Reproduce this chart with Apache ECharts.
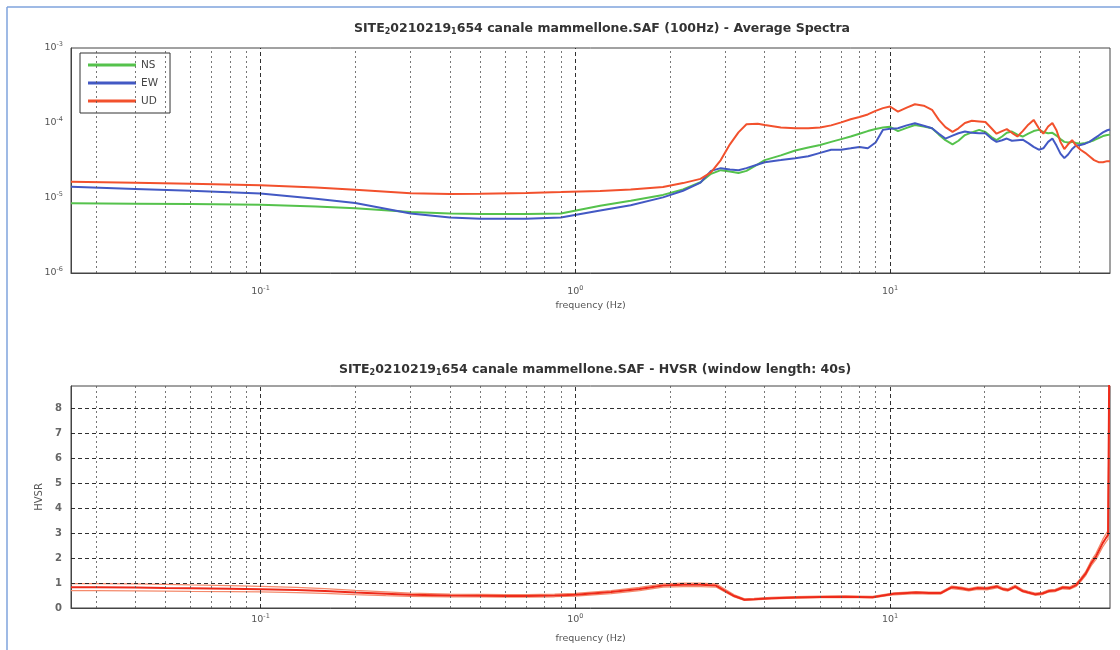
<!DOCTYPE html>
<html><head><meta charset="utf-8">
<script src="https://cdn.jsdelivr.net/npm/echarts@6/dist/echarts.min.js"></script>
<style>html,body{margin:0;padding:0;background:#fff}#c{width:1120px;height:650px}</style>
</head><body><div id="c"></div>
<script>
// ---- Average spectra (top) ----
const specFreq = [0.025,0.04,0.06,0.1,0.15,0.2,0.3,0.4,0.5,0.7,0.9,1.2,1.5,1.9,2.2,2.5,2.7,2.9,3.1,3.3,3.5,3.8,4.0,4.5,5.0,5.5,6.0,6.5,7.0,7.5,8.0,8.5,9.0,9.5,10,10.6,11.3,12,12.8,13.6,14.3,15,15.8,16.5,17.3,18.2,19.2,20.1,21,21.8,22.7,23.5,24.4,25.4,26.4,27.5,28.6,29.7,30.7,31.8,32.8,33.8,34.8,35.8,36.8,37.9,39.0,40.3,41.7,43.0,44.5,46.0,47.5,49.0,50];
const specUD = [1.65e-5,1.6e-5,1.55e-5,1.48e-5,1.38e-5,1.29e-5,1.16e-5,1.13e-5,1.14e-5,1.17e-5,1.2e-5,1.24e-5,1.3e-5,1.4e-5,1.58e-5,1.8e-5,2.2e-5,3.2e-5,5.2e-5,7.5e-5,9.6e-5,9.8e-5,9.4e-5,8.7e-5,8.5e-5,8.5e-5,8.7e-5,9.3e-5,1.02e-4,1.12e-4,1.2e-4,1.3e-4,1.45e-4,1.58e-4,1.66e-4,1.42e-4,1.6e-4,1.78e-4,1.7e-4,1.5e-4,1.1e-4,8.8e-5,7.6e-5,8.5e-5,1.0e-4,1.07e-4,1.05e-4,1.03e-4,8.5e-5,7.2e-5,7.8e-5,8.3e-5,7.4e-5,6.6e-5,7.8e-5,9.5e-5,1.1e-4,8.5e-5,7.2e-5,9.0e-5,1.0e-4,8.0e-5,5.6e-5,4.5e-5,5.2e-5,5.9e-5,5.0e-5,4.4e-5,4.0e-5,3.6e-5,3.2e-5,3.0e-5,3.0e-5,3.1e-5,3.1e-5];
const specNS = [8.5e-6,8.4e-6,8.3e-6,8.1e-6,7.7e-6,7.3e-6,6.5e-6,6.2e-6,6.1e-6,6.1e-6,6.2e-6,7.9e-6,9.2e-6,1.1e-5,1.3e-5,1.62e-5,2.1e-5,2.35e-5,2.25e-5,2.15e-5,2.3e-5,2.8e-5,3.2e-5,3.7e-5,4.3e-5,4.7e-5,5.1e-5,5.6e-5,6.1e-5,6.6e-5,7.2e-5,7.8e-5,8.3e-5,8.7e-5,8.9e-5,7.8e-5,8.6e-5,9.4e-5,9.0e-5,8.5e-5,7.0e-5,5.9e-5,5.2e-5,5.8e-5,6.9e-5,7.5e-5,8.1e-5,7.6e-5,6.5e-5,5.9e-5,6.6e-5,7.4e-5,7.7e-5,7.0e-5,6.6e-5,7.2e-5,7.8e-5,8.1e-5,7.6e-5,7.3e-5,7.4e-5,6.8e-5,6.1e-5,5.6e-5,5.5e-5,5.6e-5,5.4e-5,5.3e-5,5.4e-5,5.6e-5,5.9e-5,6.3e-5,6.7e-5,6.9e-5,7.0e-5];
const specEW = [1.41e-5,1.32e-5,1.25e-5,1.15e-5,9.8e-6,8.6e-6,6.2e-6,5.5e-6,5.3e-6,5.3e-6,5.5e-6,6.8e-6,8.0e-6,1.02e-5,1.25e-5,1.6e-5,2.3e-5,2.5e-5,2.4e-5,2.35e-5,2.5e-5,2.8e-5,3.0e-5,3.2e-5,3.4e-5,3.6e-5,4.0e-5,4.4e-5,4.4e-5,4.6e-5,4.8e-5,4.6e-5,5.5e-5,8.1e-5,8.4e-5,8.5e-5,9.3e-5,9.9e-5,9.2e-5,8.5e-5,7.2e-5,6.2e-5,6.8e-5,7.3e-5,7.7e-5,7.4e-5,7.3e-5,7.3e-5,6.2e-5,5.6e-5,5.9e-5,6.2e-5,5.8e-5,5.9e-5,6.0e-5,5.4e-5,4.8e-5,4.4e-5,4.6e-5,5.6e-5,6.2e-5,5.0e-5,3.9e-5,3.4e-5,3.8e-5,4.5e-5,5.0e-5,5.1e-5,5.3e-5,5.6e-5,6.2e-5,6.8e-5,7.5e-5,8.0e-5,8.2e-5];

// ---- HVSR (bottom) ----
const hvFreq = [0.025,0.03,0.04,0.05,0.06,0.08,0.1,0.13,0.16,0.2,0.25,0.3,0.4,0.5,0.6,0.7,0.86,1.0,1.3,1.6,1.9,2.2,2.5,2.8,3.0,3.2,3.45,3.7,4.2,5,6,7.2,8.8,10.3,12.1,13.3,14.5,15.3,15.7,16.8,17.8,19,20.3,21.9,22.8,23.7,25,26.4,27.5,28.9,30.5,32,33.5,35.4,37.3,39,40.3,41.9,43.6,45.1,47.4,48.5,49.3,50];
const hvMean = [0.83,0.83,0.82,0.80,0.79,0.77,0.75,0.72,0.68,0.62,0.57,0.53,0.50,0.49,0.48,0.48,0.50,0.53,0.64,0.76,0.90,0.93,0.93,0.90,0.68,0.48,0.33,0.35,0.39,0.42,0.44,0.45,0.43,0.57,0.62,0.60,0.60,0.76,0.83,0.79,0.73,0.80,0.78,0.86,0.76,0.72,0.86,0.68,0.62,0.55,0.58,0.68,0.70,0.82,0.80,0.92,1.12,1.39,1.80,2.06,2.60,2.80,2.93,14];
const hvUpper = [0.98,0.98,0.97,0.95,0.93,0.90,0.87,0.83,0.78,0.71,0.65,0.60,0.56,0.55,0.54,0.54,0.56,0.59,0.70,0.83,0.97,1.0,1.0,0.97,0.74,0.53,0.37,0.39,0.43,0.46,0.48,0.49,0.47,0.61,0.66,0.64,0.64,0.80,0.88,0.84,0.78,0.85,0.83,0.91,0.81,0.77,0.91,0.73,0.67,0.60,0.63,0.73,0.75,0.87,0.85,0.98,1.19,1.47,1.90,2.18,2.75,2.96,3.10,14];
const hvLower = [0.70,0.70,0.69,0.68,0.67,0.66,0.65,0.62,0.59,0.54,0.50,0.47,0.45,0.44,0.43,0.43,0.45,0.48,0.58,0.70,0.84,0.86,0.86,0.84,0.63,0.44,0.30,0.32,0.36,0.39,0.41,0.42,0.40,0.53,0.58,0.56,0.56,0.72,0.78,0.74,0.69,0.75,0.73,0.81,0.72,0.68,0.81,0.64,0.58,0.51,0.54,0.64,0.66,0.77,0.75,0.86,1.05,1.31,1.70,1.94,2.45,2.64,2.76,14];

const hvTicks = [0,1,2,3,4,5,6,7,8];
const titleTop = ['SITE','2','0210219','1','654 canale mammellone.SAF (100Hz) - Average Spectra'];
const titleBottom = ['SITE','2','0210219','1','654 canale mammellone.SAF - HVSR (window length: 40s)'];

const FONT = '"DejaVu Sans", Verdana, sans-serif';
const xMin = 0.025, xMax = 50;

function pairs(xs, ys){ return xs.map((x,i)=>[x, ys[i]]); }
function isPow10(v){ const e = Math.log10(v); return Math.abs(e - Math.round(e)) < 1e-6; }
function powLabel(v){ if(!isPow10(v)) return ''; return '{b|10}{s|' + Math.round(Math.log10(v)) + '}'; }
const labRich = {
  b:{fontSize:9.5, color:'#555', fontFamily:FONT, lineHeight:14},
  s:{fontSize:6.5, color:'#555', fontFamily:FONT, verticalAlign:'top', lineHeight:8}
};
const titleRich = {
  n:{fontSize:12.5, fontWeight:'bold', color:'#333', fontFamily:FONT},
  sub:{fontSize:8, fontWeight:'bold', color:'#333', fontFamily:FONT, verticalAlign:'bottom', padding:[7,0,0,0]}
};
function richTitle(p){ return '{n|'+p[0]+'}{sub|'+p[1]+'}{n|'+p[2]+'}{sub|'+p[3]+'}{n|'+p[4]+'}'; }

// grid lines (MATLAB style major + minor)
const xMajor = [], xMinor = [];
[0.01,0.1,1,10].forEach(d=>{ for(let k=1;k<=9;k++){ const v=+(k*d).toPrecision(6); if(v>xMin && v<xMax){ (k===1?xMajor:xMinor).push(v);} } });
const yMajorTop = [], yMinorTop = [];
[1e-6,1e-5,1e-4].forEach(d=>{ for(let k=1;k<=9;k++){ const v=+(k*d).toPrecision(6); if(v>1e-6 && v<1e-3){ (k===1?yMajorTop:yMinorTop).push(v);} } });

const majStyle = {color:'#1a1a1a', width:1, type:[4,3], opacity:0.9};
const minStyle = {color:'#555', width:1, type:[2,3], opacity:0.8};
function gridLines(xs, key, style){ return xs.map(v=>({[key]:v, lineStyle:style})); }

const markCommon = {silent:true, symbol:['none','none'], label:{show:false}, animation:false};

const option = {
  animation:false,
  backgroundColor:'#fff',
  title:[
    {text:richTitle(titleTop), left:597, top:16, textAlign:'center', textStyle:{rich:titleRich}},
    {text:richTitle(titleBottom), left:590, top:357, textAlign:'center', textStyle:{rich:titleRich}}
  ],
  legend:{
    data:['NS','EW','UD'], orient:'vertical', left:80, top:53,
    backgroundColor:'#fff', borderColor:'#333', borderWidth:1,
    padding:[5,12,5,8], itemGap:4, itemWidth:48, itemHeight:3, icon:'rect',
    textStyle:{fontSize:10.5, color:'#444', fontFamily:FONT, lineHeight:14}
  },
  graphic:[
    {type:'line', shape:{x1:7,y1:7,x2:1120,y2:7}, style:{stroke:'#7fa3dc', lineWidth:1.5}, silent:true},
    {type:'line', shape:{x1:7,y1:7,x2:7,y2:650}, style:{stroke:'#7fa3dc', lineWidth:1.5}, silent:true}
  ],
  grid:[
    {left:71, top:48, width:1039, height:225, show:true, borderColor:'#444', borderWidth:1, backgroundColor:'#fff'},
    {left:71, top:386, width:1039, height:222, show:true, borderColor:'#444', borderWidth:1, backgroundColor:'#fff'}
  ],
  xAxis:[
    {type:'log', logBase:10, gridIndex:0, min:xMin, max:xMax,
     name:'frequency (Hz)', nameLocation:'middle', nameGap:28,
     nameTextStyle:{fontSize:9.5, color:'#555', fontFamily:FONT},
     axisLine:{lineStyle:{color:'#444'}}, axisTick:{show:false}, splitLine:{show:false},
     axisLabel:{formatter:powLabel, rich:labRich, margin:12, showMinLabel:false, showMaxLabel:false}},
    {type:'log', logBase:10, gridIndex:1, min:xMin, max:xMax,
     name:'frequency (Hz)', nameLocation:'middle', nameGap:26,
     nameTextStyle:{fontSize:9.5, color:'#555', fontFamily:FONT},
     axisLine:{lineStyle:{color:'#444'}}, axisTick:{show:false}, splitLine:{show:false},
     axisLabel:{formatter:powLabel, rich:labRich, margin:5, showMinLabel:false, showMaxLabel:false}}
  ],
  yAxis:[
    {type:'log', logBase:10, gridIndex:0, min:1e-6, max:1e-3,
     axisLine:{lineStyle:{color:'#444'}}, axisTick:{show:false}, splitLine:{show:false},
     axisLabel:{formatter:powLabel, rich:labRich, margin:8}},
    {type:'value', gridIndex:1, min:0, max:8.9, interval:1,
     name:'HVSR', nameLocation:'middle', nameGap:27, nameRotate:90,
     nameTextStyle:{fontSize:10, color:'#555', fontFamily:FONT},
     axisLine:{lineStyle:{color:'#444'}}, axisTick:{show:false}, splitLine:{show:false},
     axisLabel:{formatter:v=>hvTicks.includes(v)?String(v):'', fontSize:10, color:'#666', fontFamily:FONT, margin:9, fontWeight:'bold'}}
  ],
  series:[
    {name:'gridTop', type:'line', xAxisIndex:0, yAxisIndex:0, data:[[xMin,1e-6]], symbol:'none', lineStyle:{opacity:0}, z:1,
     markLine:Object.assign({}, markCommon, {data:[].concat(
       gridLines(xMajor,'xAxis',majStyle), gridLines(xMinor,'xAxis',minStyle),
       gridLines(yMajorTop,'yAxis',majStyle), gridLines(yMinorTop,'yAxis',minStyle))})},
    {name:'gridBottom', type:'line', xAxisIndex:1, yAxisIndex:1, data:[[xMin,0]], symbol:'none', lineStyle:{opacity:0}, z:1,
     markLine:Object.assign({}, markCommon, {data:[].concat(
       gridLines(xMajor,'xAxis',majStyle), gridLines(xMinor,'xAxis',minStyle),
       gridLines(hvTicks.filter(v=>v>0),'yAxis',majStyle))})},
    {name:'NS', type:'line', xAxisIndex:0, yAxisIndex:0, data:pairs(specFreq,specNS), symbol:'none', z:3,
     lineStyle:{color:'#55c24c', width:2}, itemStyle:{color:'#55c24c'}},
    {name:'EW', type:'line', xAxisIndex:0, yAxisIndex:0, data:pairs(specFreq,specEW), symbol:'none', z:4,
     lineStyle:{color:'#4359c4', width:2}, itemStyle:{color:'#4359c4'}},
    {name:'UD', type:'line', xAxisIndex:0, yAxisIndex:0, data:pairs(specFreq,specUD), symbol:'none', z:5,
     lineStyle:{color:'#f2512d', width:2}, itemStyle:{color:'#f2512d'}},
    {name:'HVSR+', type:'line', xAxisIndex:1, yAxisIndex:1, data:pairs(hvFreq,hvUpper), symbol:'none', z:3, clip:true,
     lineStyle:{color:'#f48a6c', width:1.2}},
    {name:'HVSR-', type:'line', xAxisIndex:1, yAxisIndex:1, data:pairs(hvFreq,hvLower), symbol:'none', z:3, clip:true,
     lineStyle:{color:'#f48a6c', width:1.2}},
    {name:'HVSR', type:'line', xAxisIndex:1, yAxisIndex:1, data:pairs(hvFreq,hvMean), symbol:'none', z:4, clip:true,
     lineStyle:{color:'#ee2a1a', width:2}}
  ]
};
const chart = echarts.init(document.getElementById('c'), null, {renderer:'canvas'});
chart.setOption(option);
</script></body></html>
